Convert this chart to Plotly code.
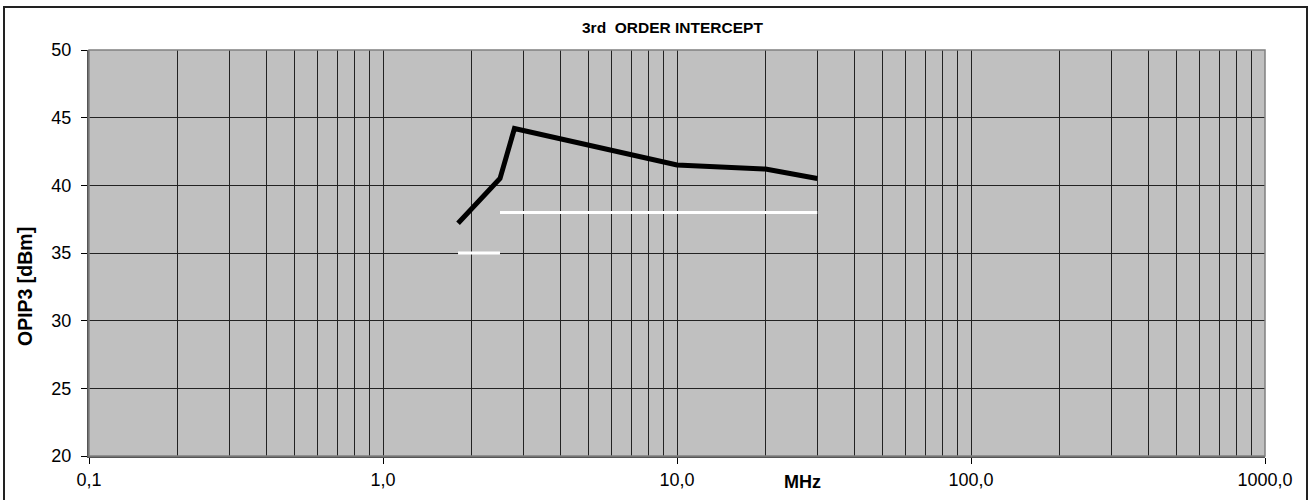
import plotly.graph_objects as go

# Data
freq_mhz = [1.8, 2.5, 2.8, 5, 10, 20, 30]
opip3_dbm = [37.2, 40.5, 44.2, 43.0, 41.5, 41.2, 40.5]
spec1_x = [1.8, 2.5]
spec1_y = [35, 35]
spec2_x = [2.5, 30]
spec2_y = [38, 38]

x_major = [0.1, 1, 10, 100, 1000]
x_major_text = ["0,1", "1,0", "10,0", "100,0", "1000,0"]
x_minor = [m * d for d in [0.1, 1, 10, 100] for m in range(2, 10)]
y_ticks = [20, 25, 30, 35, 40, 45, 50]

W, H = 1311, 500
L, R, T, B = 89, 46, 50, 44
pw, ph = W - L - R, H - T - B

def px(x):
    return (x - L) / pw

def py(y):
    return (H - B - y) / ph

fig = go.Figure()
fig.add_trace(go.Scatter(x=spec1_x, y=spec1_y, mode="lines",
                         line=dict(color="white", width=3), hoverinfo="skip"))
fig.add_trace(go.Scatter(x=spec2_x, y=spec2_y, mode="lines",
                         line=dict(color="white", width=3), hoverinfo="skip"))
fig.add_trace(go.Scatter(x=freq_mhz, y=opip3_dbm, mode="lines",
                         line=dict(color="black", width=5)))

font = "Liberation Sans, Arial, sans-serif"
fig.update_layout(
    width=W, height=H,
    margin=dict(l=L, r=R, t=T, b=B, autoexpand=False),
    paper_bgcolor="white",
    plot_bgcolor="#C0C0C0",
    showlegend=False,
    font=dict(family=font, size=18, color="black"),
    xaxis=dict(
        type="log", range=[-1, 3], automargin=False,
        tickvals=x_major, ticktext=x_major_text,
        ticks="outside", ticklen=6, tickcolor="black", tickwidth=1,
        showgrid=True, gridcolor="#222222", gridwidth=1,
        minor=dict(tickvals=x_minor, showgrid=True, gridcolor="#222222",
                   gridwidth=1, ticks=""),
        showline=True, linecolor="#555555", linewidth=2, mirror=False,
        ticklabelstandoff=0,
        zeroline=False,
    ),
    yaxis=dict(
        range=[20, 50], tickvals=y_ticks, automargin=False,
        ticks="outside", ticklen=6, tickcolor="black", tickwidth=1,
        showgrid=True, gridcolor="#222222", gridwidth=1,
        showline=True, linecolor="#555555", linewidth=2,
        ticklabelstandoff=6,
        zeroline=False,
    ),
    annotations=[
        dict(text="<b>3rd  ORDER INTERCEPT</b>", x=px(672), y=py(28),
             xref="paper", yref="paper", showarrow=False,
             font=dict(size=15.5, family=font), xanchor="center", yanchor="middle"),
        dict(text="<b>MHz</b>", x=px(802), y=py(482),
             xref="paper", yref="paper", showarrow=False,
             font=dict(size=18, family=font), xanchor="center", yanchor="middle"),
        dict(text="<b>OPIP3 [dBm]</b>", x=px(25), y=py(287), textangle=-90,
             xref="paper", yref="paper", showarrow=False,
             font=dict(size=19.5, family=font), xanchor="center", yanchor="middle"),
    ],
    shapes=[
        dict(type="rect", xref="paper", yref="paper",
             x0=px(4), x1=px(1307), y0=py(505), y1=py(7),
             line=dict(color="#222222", width=2), layer="below"),
        dict(type="rect", xref="paper", yref="paper",
             x0=0, x1=1, y0=0, y1=1,
             line=dict(color="#808080", width=1.5), layer="above"),
    ],
)

fig.write_html("out.html", config={"displayModeBar": False},
               post_script="document.body.style.margin='0';document.body.style.overflow='hidden';")
